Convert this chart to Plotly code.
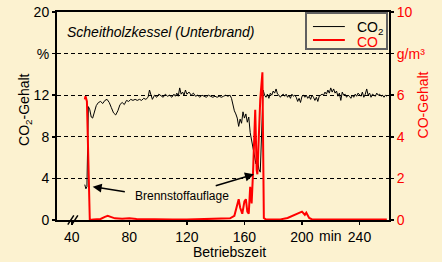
import plotly.graph_objects as go

# ---- data ----
co2_t = [49, 49.8, 50.5, 51.5, 52.5, 53.5, 54.5, 55.5, 57, 58.5, 60, 61.5, 63, 64.5, 66, 67.5, 69, 70.5, 72, 73.5,
         75, 76.5, 78, 79.5, 81, 82.5, 84, 85.5, 87, 88.5, 90, 91.5, 93, 94, 95, 96, 97.5, 99, 100.5, 102,
         103.5, 105, 106.5, 108, 109.5, 111, 112, 113, 114, 115, 116, 117, 118, 119, 120, 121.5, 123, 124.5, 126, 127.5,
         129, 130.5, 132, 133.5, 135, 136.5, 138, 139.5, 141, 142.5, 144, 145.5, 147, 148.5, 150, 151, 152, 153, 154, 155,
         156, 157, 158, 159, 160, 161, 162, 163, 164, 165, 166, 167, 168, 169, 170, 171, 172, 173, 174, 175,
         176, 177, 178, 179, 180, 181, 182, 183, 184, 185, 186, 187, 188, 189, 190, 191, 192, 193, 194, 195,
         196, 197, 198, 199, 200, 201, 202, 203, 204, 205, 206, 207, 208, 209, 210, 211, 212, 213, 214, 215,
         216, 217, 218, 219, 220, 221, 222, 223, 224, 225, 226, 227, 228, 229, 230, 231, 232, 233, 234, 235,
         236, 237, 238, 239, 240, 241, 242, 243, 244, 245, 246, 247, 248, 249, 250, 251, 252, 253, 254, 255,
         256, 257, 258, 259]
co2_v = [3.4, 3.0, 3.2, 10.9, 10.6, 9.9, 9.8, 10.4, 11.0, 11.3, 11.4, 11.2, 11.5, 11.6, 11.3, 10.8, 10.3, 10.1, 10.5, 11.1,
         11.3, 11.1, 11.5, 11.4, 11.6, 11.5, 11.6, 11.5, 11.6, 11.5, 11.7, 11.6, 11.8, 12.5, 11.9, 11.6, 12.0, 11.8, 12.1, 11.9,
         11.8, 12.1, 11.9, 12.0, 11.8, 12.1, 11.9, 12.2, 11.9, 12.7, 12.1, 12.3, 12.0, 12.5, 12.1, 12.3, 12.0, 12.2, 11.9, 12.0,
         11.8, 12.0, 11.9, 11.8, 12.0, 11.9, 11.8, 11.9, 11.8, 11.9, 11.8, 11.9, 12.0, 11.9, 12.0, 11.7, 11.0, 10.5, 10.2, 9.8,
         9.0, 9.7, 9.3, 10.4, 9.8, 10.2, 9.4, 9.9, 8.4, 7.6, 7.0, 5.9, 5.4, 6.0, 4.9, 4.6, 8.5, 12.5, 12.0, 11.8,
         12.1, 11.7, 12.2, 12.0, 12.4, 12.2, 12.6, 12.1, 12.0, 11.8, 12.0, 12.1, 11.9, 12.1, 11.8, 12.0, 11.7, 12.1, 11.9, 12.0,
         11.8, 11.4, 11.7, 11.3, 11.9, 12.0, 11.8, 12.0, 11.7, 11.9, 11.6, 12.0, 11.8, 11.5, 11.8, 11.4, 11.9, 12.0, 12.1, 12.0,
         12.3, 12.1, 12.5, 12.2, 12.7, 12.3, 12.6, 12.2, 12.4, 11.9, 12.2, 11.5, 12.3, 12.0, 12.1, 11.8, 12.0, 11.9, 11.7, 12.0,
         11.8, 12.1, 11.9, 12.2, 12.0, 11.9, 12.3, 11.8, 12.1, 12.6, 12.0, 12.2, 11.8, 12.1, 12.0, 11.9, 12.2, 12.0, 12.1, 11.9,
         12.0, 11.8, 12.0, 11.9]

co_t = [49, 49.5, 50.5, 51.5, 52.5, 55, 60, 63, 65, 67, 70, 75, 80, 85, 90, 100, 110, 120, 130, 140,
        150, 153, 155, 156, 157, 158.5, 160, 161, 162, 163, 164, 165, 166, 167.5, 168.5, 169, 170, 171, 172.5, 173.5,
        175, 180, 185, 190, 193, 196, 198, 200, 202, 203, 205, 207, 215, 230, 250, 259]
co_v = [5.8, 5.95, 5.7, 2.5, 0.0, 0.02, 0.05, 0.15, 0.2, 0.15, 0.08, 0.06, 0.08, 0.05, 0.04, 0.03, 0.03, 0.02, 0.03, 0.04,
        0.08, 0.2, 0.7, 1.0, 0.6, 0.3, 0.9, 1.0, 0.4, 0.3, 1.6, 0.8, 2.3, 5.3, 2.4, 2.2, 4.0, 5.8, 7.1, 0.1,
        0.02, 0.03, 0.03, 0.1, 0.2, 0.3, 0.35, 0.4, 0.25, 0.35, 0.1, 0.03, 0.02, 0.03, 0.02, 0.03]

x_ticks = [40, 80, 120, 160, 200, 240]
y_left_ticks = [0, 4, 8, 12, 16, 20]
y_left_text = ["0", "4", "8", "12", "%", "20"]
y_right_ticks = [0, 2, 4, 6, 8, 10]
y_right_text = ["0", "2", "4", "6", "g/m³", "10"]

BG = "#FCF2D0"
RED = "#FF0000"
FONT = "Arial, Liberation Sans, sans-serif"

fig = go.Figure()
fig.add_trace(go.Scatter(x=co2_t, y=co2_v, mode="lines", name="CO<sub>2</sub>",
                         line=dict(color="black", width=1), yaxis="y"))
fig.add_trace(go.Scatter(x=co_t, y=co_v, mode="lines", name="CO",
                         line=dict(color=RED, width=2), yaxis="y2"))

fig.update_layout(
    template="none",
    width=442, height=262,
    margin=dict(l=57, r=53, t=12, b=42, autoexpand=False),
    paper_bgcolor=BG, plot_bgcolor=BG,
    font=dict(family=FONT, size=14, color="black"),
    showlegend=False,
    xaxis=dict(range=[29.7, 260.5], tickvals=x_ticks, ticks="outside", ticklen=3, tickwidth=1.5,
               tickcolor="black", showline=True, linecolor="black", linewidth=2, mirror=True,
               showgrid=False, zeroline=False, automargin=False, tickfont=dict(size=14)),
    yaxis=dict(range=[0, 20], tickvals=y_left_ticks, ticktext=y_left_text, ticks="outside",
               ticklen=3, tickwidth=1.5, tickcolor="black", showline=True, linecolor="black",
               linewidth=2, showgrid=True, gridcolor="black", gridwidth=1, griddash="4px,3px",
               zeroline=False, automargin=False, tickfont=dict(size=14)),
    yaxis2=dict(range=[0, 10], overlaying="y", side="right", tickvals=y_right_ticks,
                ticktext=y_right_text, ticks="outside", ticklen=3, tickwidth=1.5, tickcolor="black",
                showline=True, linecolor="black", linewidth=2, showgrid=False, zeroline=False,
                automargin=False, tickfont=dict(size=14, color=RED)),
)

ann = [
    dict(text="<i>Scheitholzkessel (Unterbrand)</i>", x=0.024, y=0.904, xref="paper", yref="paper",
         xanchor="left", yanchor="middle", showarrow=False, font=dict(size=14)),
    dict(text="CO<sub>2</sub>-Gehalt", x=-0.096, y=0.53, xref="paper", yref="paper",
         textangle=-90, showarrow=False, font=dict(size=14), xanchor="center", yanchor="middle"),
    dict(text="CO-Gehalt", x=1.102, y=0.555, xref="paper", yref="paper",
         textangle=-90, showarrow=False, font=dict(size=14, color=RED),
         xanchor="center", yanchor="middle"),
    dict(text="Betriebszeit", x=0.52, y=-0.155, xref="paper", yref="paper",
         showarrow=False, font=dict(size=14), xanchor="center", yanchor="middle"),
    dict(text="min", x=220, y=-0.075, xref="x", yref="paper",
         showarrow=False, font=dict(size=14), xanchor="center", yanchor="middle"),
    # legend texts
    dict(text="CO<sub>2</sub>", x=0.898, y=0.921, xref="paper", yref="paper",
         xanchor="left", yanchor="middle", showarrow=False, font=dict(size=14)),
    dict(text="CO", x=0.898, y=0.856, xref="paper", yref="paper",
         xanchor="left", yanchor="middle", showarrow=False, font=dict(size=14, color=RED)),
    # annotation with arrows
    dict(text="Brennstoffauflage", x=116.5, y=2.35, xref="x", yref="y",
         showarrow=False, font=dict(size=12), xanchor="center", yanchor="middle"),
    dict(text="", x=54.5, y=3.2, ax=77.9, ay=2.7, xref="x", yref="y", axref="x", ayref="y",
         showarrow=True, arrowhead=2, arrowsize=1.2, arrowwidth=1.5, arrowcolor="black"),
    dict(text="", x=166.6, y=4.4, ax=139, ay=3.25, xref="x", yref="y", axref="x", ayref="y",
         showarrow=True, arrowhead=2, arrowsize=1.2, arrowwidth=1.5, arrowcolor="black"),
]
fig.update_layout(annotations=ann)

shapes = [
    # legend box and samples
    dict(type="rect", xref="paper", yref="paper", x0=0.750, x1=0.994, y0=0.822, y1=0.995,
         line=dict(color="#606060", width=2), fillcolor=BG, layer="above"),
    dict(type="line", xref="paper", yref="paper", x0=0.771, x1=0.867, y0=0.930, y1=0.930,
         line=dict(color="black", width=1)),
    dict(type="line", xref="paper", yref="paper", x0=0.771, x1=0.867, y0=0.865, y1=0.865,
         line=dict(color=RED, width=2)),
]
# axis break marks "//"
for x0 in (37.2, 40.0):
    shapes.append(dict(type="line", xref="x", yref="paper", x0=x0, x1=x0 + 4.2, y0=-0.022, y1=0.022,
                       line=dict(color="black", width=1.5)))
fig.update_layout(shapes=shapes)

fig.write_html("out.html", config={"displayModeBar": False, "staticPlot": True},
               post_script="document.body.style.margin='0';document.body.style.overflow='hidden';")
